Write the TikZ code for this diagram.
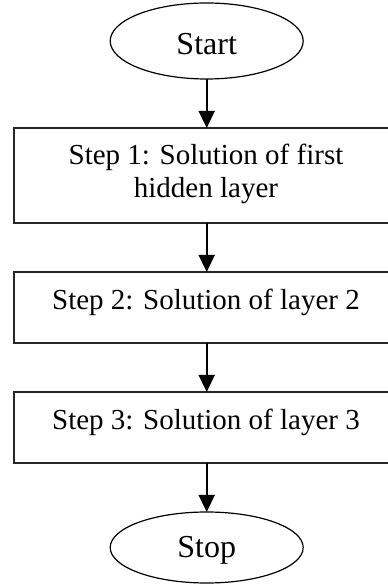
\documentclass[tikz,border=0pt]{standalone}
\usepackage{fontspec}
\setmainfont{Liberation Serif}
\usetikzlibrary{shapes.geometric,arrows.meta}

\tikzset{
  terminal/.style={draw=black, line width=1.2pt, ellipse, inner sep=0pt, outer sep=0pt},
  stepbox/.style={draw=black!85, line width=1.3pt, rectangle, inner sep=0pt, outer sep=0pt,
                  minimum width=386pt},
  label/.style={inner sep=0pt, anchor=base, align=center},
  flow/.style={line width=1.6pt, -{Triangle[width=16pt,length=17pt]}}
}

\begin{document}
\begin{tikzpicture}[x=1pt,y=1pt]
  \useasboundingbox (0,0) rectangle (388,584);
  \clip (0,0) rectangle (388,584);

  % terminals
  \node[terminal, minimum width=193pt, minimum height=76pt] (start) at (206.7,543) {};
  \node[label, font=\fontsize{32}{36}\selectfont] (starttxt) at (206.7,529) {Start};

  \node[terminal, minimum width=193pt, minimum height=71pt] (stop) at (206.7,36.5) {};
  \node[label, font=\fontsize{32}{36}\selectfont] (stoptxt) at (206.7,26) {Stop};

  % process steps (boxes run past the right page edge)
  \node[stepbox, minimum height=95pt] (s1) at (207,408.5) {};
  \node[label, font=\fontsize{29}{33}\selectfont] (s1a) at (206,419) {Step 1: Solution of first};
  \node[label, font=\fontsize{29}{33}\selectfont] (s1b) at (206,386) {hidden layer};

  \node[stepbox, minimum height=71pt] (s2) at (207,276.5) {};
  \node[label, font=\fontsize{29}{33}\selectfont] (s2txt) at (206,274) {Step 2: Solution of layer 2};

  \node[stepbox, minimum height=71pt] (s3) at (207,156.5) {};
  \node[label, font=\fontsize{29}{33}\selectfont] (s3txt) at (206,154) {Step 3: Solution of layer 3};

  % connectors
  \draw[flow] (start.south) -- (start.south |- s1.north);
  \draw[flow] (start.south |- s1.south) -- (start.south |- s2.north);
  \draw[flow] (start.south |- s2.south) -- (start.south |- s3.north);
  \draw[flow] (start.south |- s3.south) -- (stop.north);
\end{tikzpicture}
\end{document}
